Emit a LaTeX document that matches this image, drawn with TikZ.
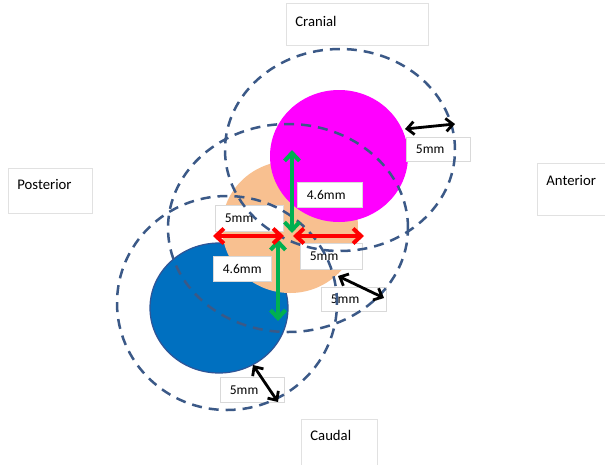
\documentclass[tikz,border=0pt]{standalone}
\usepackage{fontspec}
\setmainfont{Carlito}
\usetikzlibrary{arrows.meta}
\definecolor{dashblue}{RGB}{59,89,135}
\definecolor{magentafill}{RGB}{255,0,255}
\definecolor{peachfill}{RGB}{248,192,144}
\definecolor{bluefill}{RGB}{0,112,192}
\definecolor{blueline}{RGB}{47,85,151}
\definecolor{boxgray}{RGB}{217,217,217}
\definecolor{boxlight}{RGB}{225,225,225}
\definecolor{arrgreen}{RGB}{0,176,80}
\definecolor{arrred}{RGB}{255,0,0}
\begin{document}
\begin{tikzpicture}[x=1pt,y=-1pt,
  margin/.style={draw=dashblue, line width=2.5pt, dash pattern=on 10pt off 7pt},
  mlbl/.style={draw=boxgray, fill=white, line width=0.8pt, inner xsep=9.5pt, inner ysep=0pt,
    align=left, anchor=north west, font=\fontsize{13.5}{15}\selectfont},
  dlbl/.style={draw=boxlight, fill=white, line width=0.8pt, inner xsep=9pt, inner ysep=0pt,
    align=left, anchor=north west, font=\fontsize{14.7}{17}\selectfont},
  blackarr/.style={draw=black, line width=2.8pt,
    {Straight Barb[length=7pt,width=13pt]}-{Straight Barb[length=7pt,width=13pt]}},
  greenarr/.style={draw=arrgreen, line width=4pt,
    {Straight Barb[length=8pt,width=15pt]}-{Straight Barb[length=8pt,width=15pt]}},
  redarr/.style={draw=arrred, line width=4pt,
    {Straight Barb[length=8pt,width=15pt]}-{Straight Barb[length=8pt,width=15pt]}}
]
\fill[white] (0,0) rectangle (605,464);
\useasboundingbox (0,0) rectangle (605,464);

% coloured circles
\filldraw[fill=bluefill, draw=blueline, line width=1.2pt] (219,308) ellipse [x radius=69pt, y radius=65pt];
\fill[peachfill] (290,227) ellipse [x radius=68pt, y radius=66pt];
\fill[magentafill] (339,156) ellipse [x radius=69pt, y radius=66pt];

% direction labels
\node[dlbl, text width=124pt, text height=22.7pt, text depth=19.3pt] (cranial) at (286,3) {Cranial};
\node[dlbl, text width=66pt, text height=20.7pt, text depth=24.3pt] (posterior) at (8,168) {Posterior};
\node[dlbl, text width=60pt, text height=21.7pt, text depth=30.3pt] (anterior) at (537,163) {Anterior};
\node[dlbl, text width=58pt, text height=20.7pt, text depth=35pt] (caudal) at (301,419) {Caudal};

% measurement labels
\node[mlbl, text width=45pt, minimum height=24pt] (m1) at (406,137) {5mm};
\node[mlbl, text width=46pt, minimum height=25pt] (m2) at (297,182) {4.6mm};
\node[mlbl, text width=49pt, minimum height=26pt] (m3) at (215,205) {5mm};
\node[mlbl, text width=43pt, minimum height=26pt] (m4) at (300,243) {5mm};
\node[mlbl, text width=39pt, minimum height=25pt] (m5) at (213,256) {4.6mm};
\node[mlbl, text width=46pt, minimum height=24pt] (m6) at (321,287) {5mm};
\node[mlbl, text width=45pt, minimum height=25pt] (m7) at (220,377) {5mm};

% dashed 5mm margins
\draw[margin] (340,150) ellipse [x radius=115pt, y radius=101pt];
\draw[margin] (288,228) ellipse [x radius=120pt, y radius=104pt];
\draw[margin] (227,303) ellipse [x radius=110pt, y radius=107pt];

% arrow end points
\coordinate (b1a) at (405,129); \coordinate (b1b) at (455,124);
\coordinate (b2a) at (338,276); \coordinate (b2b) at (384,298);
\coordinate (b3a) at (253,365); \coordinate (b3b) at (278,402);
\coordinate (g1a) at (292,150); \coordinate (g1b) at (292,233);
\coordinate (g2a) at (278,239); \coordinate (g2b) at (278,321);
\coordinate (r1a) at (213,236); \coordinate (r1b) at (284,236);
\coordinate (r2a) at (293,236); \coordinate (r2b) at (364,236);

\draw[blackarr] (b1a) -- (b1b);
\draw[blackarr] (b2a) -- (b2b);
\draw[blackarr] (b3a) -- (b3b);
\draw[greenarr] (g1a) -- (g1b);
\draw[greenarr] (g2a) -- (g2b);
\draw[redarr] (r1a) -- (r1b);
\draw[redarr] (r2a) -- (r2b);
\end{tikzpicture}
\end{document}
